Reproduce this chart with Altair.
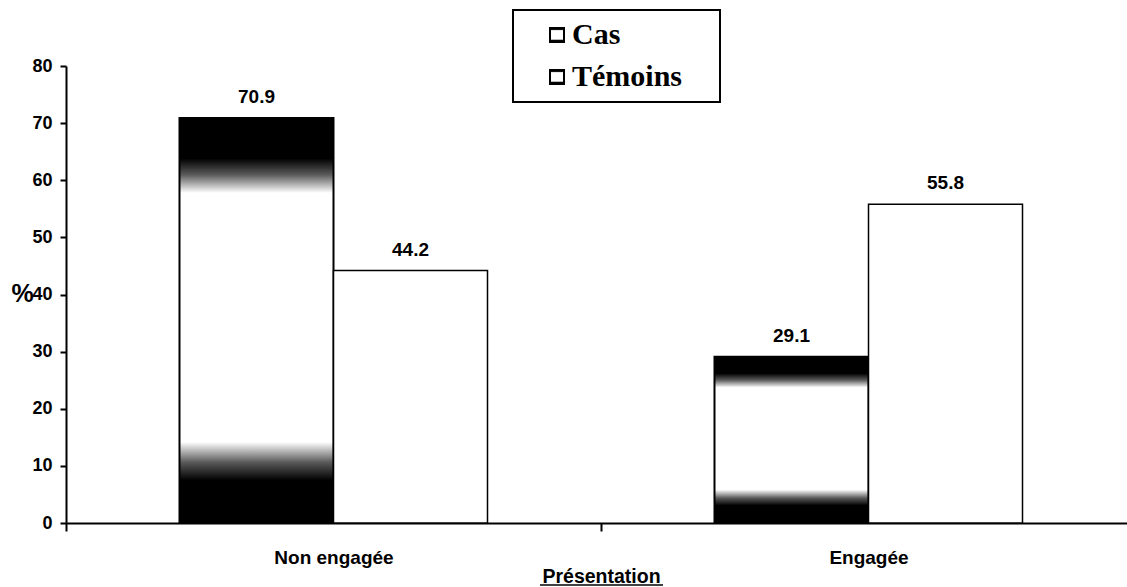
import altair as alt
import pandas as pd

# Percentages per presentation group
groups = ["Non engagée", "Engagée"]
series = ["Cas", "Témoins"]
cas = [70.9, 29.1]
temoins = [44.2, 55.8]

rows = []
for g, c, t in zip(groups, cas, temoins):
    rows.append({"presentation": g, "serie": "Cas", "pct": c})
    rows.append({"presentation": g, "serie": "Témoins", "pct": t})
df = pd.DataFrame(rows)

AX_FONT = "Liberation Sans"

# dark top and bottom bands, white middle
cas_fill = alt.LinearGradient(
    gradient="linear", x1=0, x2=0, y1=0, y2=1,
    stops=[
        alt.GradientStop(color="#000000", offset=0),
        alt.GradientStop(color="#000000", offset=0.1),
        alt.GradientStop(color="#5a5a5a", offset=0.14),
        alt.GradientStop(color="#ffffff", offset=0.185),
        alt.GradientStop(color="#ffffff", offset=0.80),
        alt.GradientStop(color="#5a5a5a", offset=0.85),
        alt.GradientStop(color="#000000", offset=0.895),
        alt.GradientStop(color="#000000", offset=1),
    ],
)

x_enc = alt.X(
    "presentation:N",
    sort=groups,
    scale=alt.Scale(domain=groups, paddingInner=0, paddingOuter=0, range=[0, 1070]),
    axis=alt.Axis(
        title="Présentation",
        titleFont=AX_FONT, titleFontSize=19.5, titleFontWeight="bold", titleColor="black",
        titleX=535, titleY=59, titleBaseline="alphabetic", titleAlign="center",
        labelFont=AX_FONT, labelFontSize=19, labelFontWeight="bold", labelColor="black",
        labelAngle=0, labelBaseline="alphabetic", labelPadding=32,
        tickBand="extent", tickSize=8, tickWidth=2, tickColor="black",
        domainColor="black", domainWidth=2, grid=False,
    ),
)
xoff_enc = alt.XOffset(
    "serie:N",
    scale=alt.Scale(domain=series, paddingInner=0, paddingOuter=0.737),
)
y_enc = alt.Y(
    "pct:Q",
    scale=alt.Scale(domain=[0, 80], nice=False),
    axis=alt.Axis(
        title="%", titleAngle=0, titleFont=AX_FONT, titleFontSize=25,
        titleFontWeight="bold", titleColor="black",
        titleX=-44, titleY=227, titleAlign="center", titleBaseline="middle",
        values=list(range(0, 81, 10)),
        labelFont=AX_FONT, labelFontSize=18, labelFontWeight="bold", labelColor="black",
        labelPadding=8, tickSize=6, tickWidth=2, tickColor="black",
        domainColor="black", domainWidth=2, grid=False,
    ),
)
stroke_enc = alt.Stroke(
    "serie:N",
    scale=alt.Scale(domain=series, range=["black", "black"]),
    legend=alt.Legend(
        title=None, orient="none", legendX=441, legendY=-57,
        symbolType="square", symbolSize=196, symbolStrokeWidth=2,
        symbolFillColor="white", symbolStrokeColor="black",
        symbolOffset=24, labelOffset=0,
        labelFont="Liberation Serif", labelFontSize=30, labelFontWeight="bold",
        labelColor="black",
        padding=11, rowPadding=12,
    ),
)

base = alt.Chart(df)

# framed box behind the legend entries
legend_frame = alt.Chart(alt.Data(values=[{}])).mark_rect(
    fill="white", stroke="black", strokeWidth=2
).encode(x=alt.value(447), x2=alt.value(654), y=alt.value(-56), y2=alt.value(36))

bars_cas = base.transform_filter(alt.datum.serie == "Cas").mark_bar(
    fill=cas_fill, strokeWidth=2
).encode(x=x_enc, xOffset=xoff_enc, y=y_enc, stroke=stroke_enc)

bars_tem = base.transform_filter(alt.datum.serie == "Témoins").mark_bar(
    fill="white", strokeWidth=1.5
).encode(x=x_enc, xOffset=xoff_enc, y=y_enc, stroke=stroke_enc)

labels = base.mark_text(
    font=AX_FONT, fontSize=19, fontWeight="bold", color="black",
    baseline="alphabetic", align="center", dy=-15,
).encode(x=x_enc, xOffset=xoff_enc, y=y_enc, text=alt.Text("pct:Q", format=".1f"))

# underline beneath the x-axis title
underline = alt.Chart(alt.Data(values=[{}])).mark_rule(
    color="black", strokeWidth=1.5
).encode(x=alt.value(474), x2=alt.value(597), y=alt.value(519))

chart = alt.layer(legend_frame, bars_cas, bars_tem, labels, underline).properties(
    width=1061, height=457,
    autosize=alt.AutoSizeParams(type="none"),
    padding={"left": 66, "top": 66, "right": 0, "bottom": 64},
    background="white",
).configure_view(stroke=None)

chart.save("out.html", embed_options={"renderer": "svg", "actions": False})
